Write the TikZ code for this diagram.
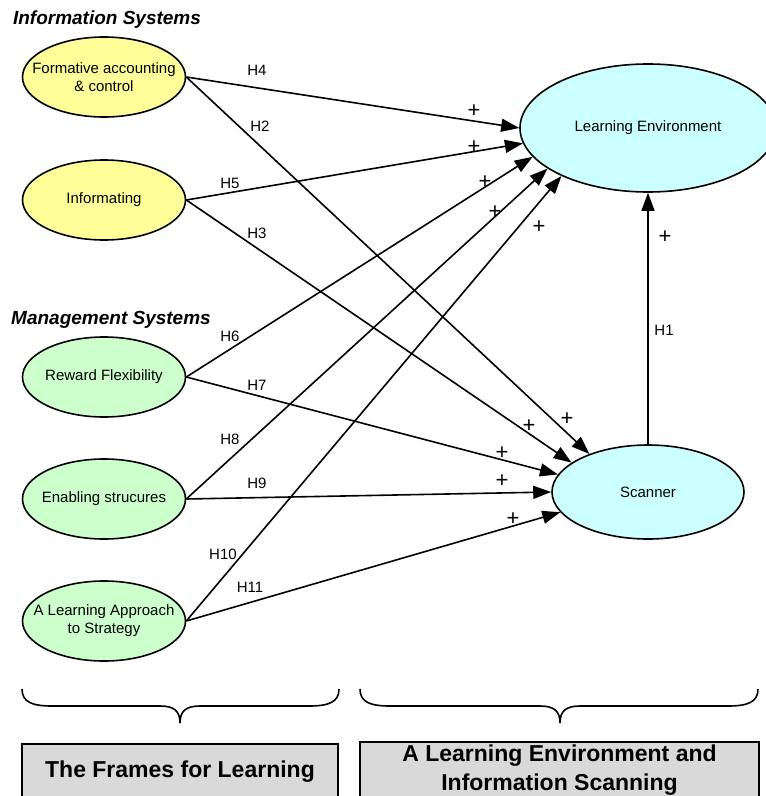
\documentclass[tikz,border=0pt]{standalone}
\usepackage{fontspec}
\setmainfont{Liberation Sans}
\usetikzlibrary{shapes.geometric,arrows.meta}

\definecolor{isfill}{HTML}{FFFF99}
\definecolor{msfill}{HTML}{CCFFCC}
\definecolor{outfill}{HTML}{CCFFFF}
\definecolor{boxfill}{HTML}{D9D9D9}

\begin{document}
\begin{tikzpicture}[x=1bp,y=-1bp,
  construct/.style={ellipse, draw, line width=1.6bp, inner sep=0pt},
  context/.style={inner sep=0pt, align=center, font=\fontsize{15bp}{18bp}\selectfont},
  infosys/.style={construct, fill=isfill, minimum width=163bp, minimum height=80bp,
    label={[context]center:#1}},
  mgmtsys/.style={construct, fill=msfill, minimum width=163bp, minimum height=80bp,
    label={[context]center:#1}},
  outcome/.style={construct, fill=outfill, label={[context]center:#1}},
  hpath/.style={line width=1.6bp, -{Triangle[length=18bp,width=13bp]}},
  hyp/.style={font=\fontsize{15bp}{18bp}\selectfont, inner sep=0pt},
  plussign/.style={font=\fontsize{22bp}{22bp}\selectfont, inner sep=0pt},
  heading/.style={font=\bfseries\itshape\fontsize{19bp}{22bp}\selectfont, inner sep=0pt},
  framebox/.style={draw, line width=1.2bp, fill=boxfill, minimum height=56bp, inner sep=0pt,
    align=center, font=\bfseries\fontsize{23bp}{29bp}\selectfont},
  bracestroke/.style={line width=1.6bp}
]
\useasboundingbox (0,0) rectangle (766,796);
\clip (0,0) rectangle (766,796);

% group headings
\node[heading] (hinfo) at (107,20) {Information Systems};
\node[heading] (hmgmt) at (111,320) {Management Systems};

% constructs
\node[infosys={Formative accounting\\\& control}] (fa) at (104,77) {};
\node[infosys={Informating}] (inf) at (104,200) {};
\node[mgmtsys={Reward Flexibility}] (rf) at (104,377) {};
\node[mgmtsys={Enabling strucures}] (es) at (104,499) {};
\node[mgmtsys={A Learning Approach\\to Strategy}] (las) at (104,621) {};
\node[outcome={Learning Environment}, minimum width=256bp, minimum height=128bp] (le) at (648,128) {};
\node[outcome={Scanner}, minimum width=192bp, minimum height=94bp] (sc) at (648,492) {};

% paths into the learning environment
\draw[hpath] (fa.east) -- (le.180);
\draw[hpath] (inf.east) -- (le.187.7);
\draw[hpath] (rf.east) -- (le.194.9);
\draw[hpath] (es.east) -- (le.202.8);
\draw[hpath] (las.east) -- (le.209.5);

% paths into the scanner
\draw[hpath] (fa.east) -- (sc.147.7);
\draw[hpath] (inf.east) -- (sc.159.1);
\draw[hpath] (rf.east) -- (sc.169.9);
\draw[hpath] (es.east) -- (sc.180.5);
\draw[hpath] (las.east) -- (sc.193.9);

% scanner to learning environment
\draw[hpath] (sc.north) -- (le.south);

% hypothesis labels
\node[hyp] (lh4) at (257,70) {H4};
\node[hyp] (lh2) at (260,126) {H2};
\node[hyp] (lh5) at (230,183) {H5};
\node[hyp] (lh3) at (257,233) {H3};
\node[hyp] (lh6) at (230,336) {H6};
\node[hyp] (lh7) at (257,385) {H7};
\node[hyp] (lh8) at (230,439) {H8};
\node[hyp] (lh9) at (257,483) {H9};
\node[hyp] (lh10) at (223,554) {H10};
\node[hyp] (lh11) at (250,587) {H11};
\node[hyp] (lh1) at (664,330) {H1};

% signs
\node[plussign] (p4) at (474,111) {+};
\node[plussign] (p5) at (474,147) {+};
\node[plussign] (p6) at (485,182) {+};
\node[plussign] (p8) at (495,212) {+};
\node[plussign] (p10) at (539,227) {+};
\node[plussign] (p1) at (665,237) {+};
\node[plussign] (p2) at (567,419) {+};
\node[plussign] (p3) at (529,426) {+};
\node[plussign] (p7) at (502,453) {+};
\node[plussign] (p9) at (502,481) {+};
\node[plussign] (p11) at (513,519) {+};

% braces
\draw[bracestroke] (22,689) .. controls (22,702) and (32,706) .. (52,706) -- (160,706)
  .. controls (174,706) and (180,711) .. (180,723)
  .. controls (180,711) and (186,706) .. (200,706) -- (309,706)
  .. controls (329,706) and (339,702) .. (339,689);
\draw[bracestroke] (360,689) .. controls (360,702) and (370,706) .. (390,706) -- (540,706)
  .. controls (554,706) and (560,711) .. (560,723)
  .. controls (560,711) and (566,706) .. (580,706) -- (728,706)
  .. controls (748,706) and (758,702) .. (758,689);

% summary boxes
\node[framebox, minimum width=316bp] (frames) at (180,772) {The Frames for Learning};
\node[framebox, minimum width=399bp] (scan) at (559.5,770) {A Learning Environment and\\Information Scanning};
\end{tikzpicture}
\end{document}
